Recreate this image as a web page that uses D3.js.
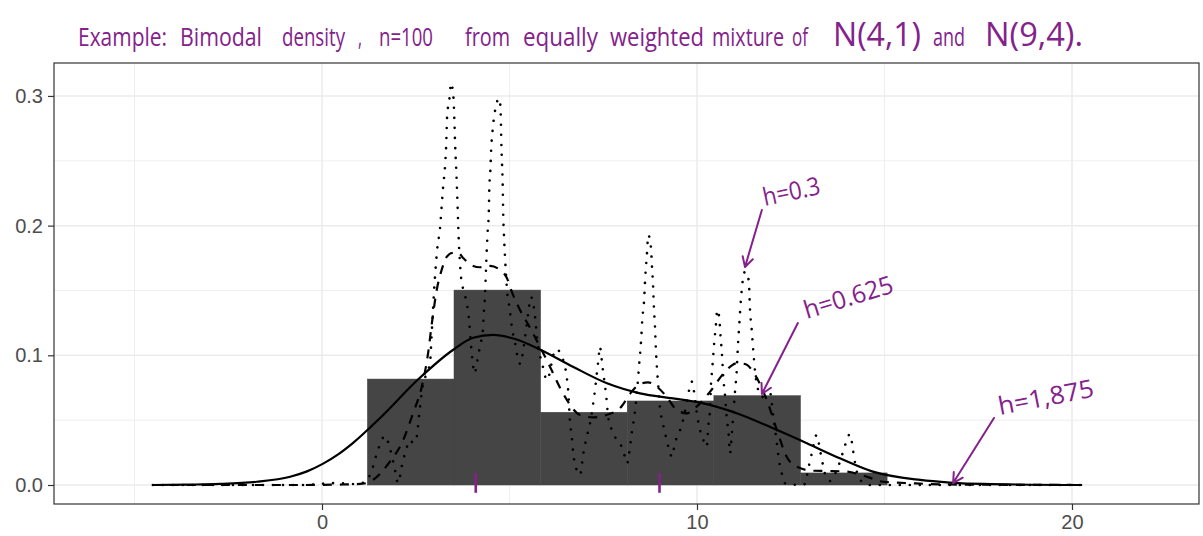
<!DOCTYPE html>
<html>
<head>
<meta charset="utf-8">
<script src="https://cdn.jsdelivr.net/npm/d3@7"></script>
<style>
  body { margin: 0; background: #fff; }
  svg { display: block; }
</style>
</head>
<body>
<div id="chart"></div>
<script>
// histogram (density scale)
var binEdges = [1.21, 3.52, 5.83, 8.14, 10.45, 12.76, 15.07];
var binDensity = [0.0817, 0.1503, 0.0561, 0.0648, 0.0689, 0.0093];

// kernel density estimates, [x, density]
var densityH03 = [
  [-4.51,0],[-0.59,0],[0.40,0.0015],[0.88,0.0008],[1.15,0.0023],[1.33,0.0116],[1.49,0.0270],[1.68,0.0378],
  [1.81,0.0285],[1.92,0.0154],[2.03,0.0015],[2.13,0.0147],[2.24,0.0270],[2.35,0.0347],[2.43,0.0324],[2.51,0.0347],
  [2.59,0.0540],[2.67,0.0733],[2.77,0.0848],[2.88,0.0941],[2.93,0.1195],[2.99,0.1504],[3.07,0.1812],[3.15,0.1990],
  [3.19,0.2146],[3.23,0.2300],[3.28,0.2455],[3.31,0.2609],[3.34,0.2866],[3.39,0.2956],[3.44,0.3098],[3.50,0.3008],
  [3.53,0.2815],[3.55,0.2622],[3.58,0.2429],[3.61,0.2198],[3.63,0.2021],[3.65,0.1866],[3.68,0.1710],[3.71,0.1596],
  [3.77,0.1504],[3.86,0.1404],[3.93,0.1249],[3.97,0.1095],[4.02,0.0941],[4.07,0.0861],[4.13,0.0939],[4.21,0.1067],
  [4.29,0.1195],[4.32,0.1350],[4.35,0.1481],[4.37,0.1635],[4.39,0.1789],[4.42,0.1967],[4.45,0.2121],[4.46,0.2275],
  [4.49,0.2429],[4.51,0.2583],[4.55,0.2738],[4.59,0.2840],[4.66,0.2944],[4.70,0.2982],[4.75,0.2944],[4.77,0.2815],
  [4.78,0.2661],[4.80,0.2483],[4.82,0.2300],[4.83,0.2121],[4.85,0.1943],[4.88,0.1761],[4.91,0.1606],[4.94,0.1481],
  [5.01,0.1350],[5.06,0.1221],[5.15,0.1095],[5.23,0.0964],[5.29,0.0933],[5.36,0.1026],[5.44,0.1195],[5.51,0.1350],
  [5.57,0.1450],[5.64,0.1388],[5.69,0.1272],[5.73,0.1141],[5.81,0.1003],[5.90,0.0902],[5.99,0.0810],[6.08,0.0871],
  [6.16,0.0995],[6.27,0.1049],[6.37,0.1003],[6.48,0.0912],[6.53,0.0825],[6.57,0.0709],[6.61,0.0501],[6.66,0.0372],
  [6.70,0.0247],[6.79,0.0116],[6.88,0.0077],[6.97,0.0244],[7.06,0.0372],[7.15,0.0478],[7.22,0.0604],[7.28,0.0733],
  [7.33,0.0864],[7.37,0.0964],[7.41,0.1067],[7.46,0.0964],[7.50,0.0864],[7.55,0.0758],[7.59,0.0656],[7.63,0.0527],
  [7.73,0.0424],[7.86,0.0347],[7.99,0.0295],[8.08,0.0218],[8.14,0.0167],[8.19,0.0244],[8.26,0.0399],[8.35,0.0578],
  [8.41,0.0758],[8.46,0.0939],[8.51,0.1118],[8.54,0.1272],[8.59,0.1427],[8.62,0.1606],[8.66,0.1761],[8.70,0.1928],
  [8.77,0.1838],[8.80,0.1683],[8.83,0.1529],[8.85,0.1375],[8.88,0.1221],[8.90,0.1067],[8.93,0.0912],[8.97,0.0758],
  [9.01,0.0604],[9.09,0.0476],[9.17,0.0372],[9.26,0.0270],[9.33,0.0218],[9.41,0.0322],[9.55,0.0424],[9.65,0.0527],
  [9.74,0.0656],[9.81,0.0758],[9.86,0.0797],[9.90,0.0758],[9.95,0.0656],[10.01,0.0527],[10.08,0.0424],[10.17,0.0347],
  [10.26,0.0295],[10.30,0.0450],[10.35,0.0604],[10.37,0.0758],[10.41,0.0912],[10.45,0.1067],[10.50,0.1221],[10.54,0.1350],
  [10.59,0.1298],[10.63,0.1144],[10.67,0.0989],[10.70,0.0835],[10.75,0.0681],[10.79,0.0527],[10.85,0.0372],[10.88,0.0244],
  [10.93,0.0399],[10.97,0.0553],[11.01,0.0707],[11.06,0.0887],[11.09,0.1067],[11.13,0.1247],[11.17,0.1427],[11.21,0.1555],
  [11.28,0.1645],[11.34,0.1633],[11.39,0.1529],[11.41,0.1375],[11.46,0.1195],[11.50,0.1041],[11.55,0.0871],[11.63,0.0733],
  [11.73,0.0679],[11.84,0.0686],[11.95,0.0709],[12.03,0.0540],[12.13,0.0322],[12.20,0.0167],[12.26,0.0090],[12.35,0.0013],
  [12.75,0],[12.88,0.0008],[12.96,0.0116],[13.07,0.0254],[13.19,0.0386],[13.28,0.0270],[13.36,0.0154],[13.44,0.0062],
  [13.55,0.0031],[13.68,0.0085],[13.81,0.0177],[13.95,0.0308],[14.08,0.0393],[14.16,0.0270],[14.25,0.0116],[14.35,0.0039],
  [14.61,0],[20.27,0]
];

var densityH0625 = [
  [-4.51,0],[-0.59,0],[0.56,0.0004],[1.09,0.0010],[1.36,0.0039],[1.81,0.0180],[2.13,0.0324],[2.43,0.0555],
  [2.66,0.0758],[2.83,0.1018],[2.93,0.1249],[3.06,0.1504],[3.19,0.1658],[3.33,0.1761],[3.47,0.1789],[3.63,0.1791],
  [3.76,0.1751],[4.03,0.1689],[4.21,0.1679],[4.48,0.1689],[4.75,0.1658],[4.93,0.1596],[5.06,0.1491],[5.28,0.1350],
  [5.55,0.1211],[5.81,0.1067],[6.08,0.0912],[6.35,0.0748],[6.53,0.0656],[6.88,0.0540],[7.23,0.0522],[7.59,0.0540],
  [7.95,0.0594],[8.26,0.0720],[8.48,0.0779],[8.69,0.0792],[8.93,0.0758],[9.19,0.0681],[9.46,0.0578],[9.73,0.0553],
  [9.99,0.0604],[10.35,0.0720],[10.75,0.0874],[11.06,0.0939],[11.28,0.0933],[11.55,0.0848],[11.86,0.0656],[12.13,0.0424],
  [12.39,0.0218],[12.66,0.0141],[13.09,0.0110],[13.55,0.0108],[13.99,0.0103],[14.53,0.0064],[14.96,0.0025],[15.76,0.0013],
  [16.75,0.0004],[20.27,0]
];

var densityH1875 = [
  [-4.51,0],[-3.60,0.0003],[-2.72,0.0008],[-1.74,0.0025],[-0.85,0.0064],[-0.40,0.0105],[0.03,0.0165],[0.45,0.0240],
  [0.83,0.0325],[1.55,0.0517],[2.56,0.0813],[3.49,0.1041],[4.03,0.1135],[4.56,0.1157],[5.15,0.1126],[5.81,0.1045],
  [6.69,0.0912],[7.60,0.0784],[8.48,0.0707],[9.36,0.0668],[10.08,0.0635],[11.15,0.0544],[12.03,0.0437],[12.93,0.0322],
  [13.81,0.0206],[14.69,0.0103],[15.95,0.0039],[16.75,0.0019],[17.63,0.0008],[20.27,0]
];

// hand-drawn marks at the two component means
var rugMarks = [4.1, 9.0];

var xTicks = [0, 10, 20];
var xMinor = [-5, 5, 15];
var yTicks = [0, 0.1, 0.2, 0.3];
var yMinor = [0.05, 0.15, 0.25];

var titleWords = ["Example:", "Bimodal", "density", ",", "n=100", "from", "equally", "weighted",
  "mixture", "of", "N(4,1)", "and", "N(9,4)."];
var bandwidthLabels = ["h=0.3", "h=0.625", "h=1,875"];

var width = 1203, height = 536;
var panel = {left: 54, right: 1199, top: 63, bottom: 504};
var purple = "#84218b";

var svg = d3.select("#chart").append("svg")
  .attr("width", width)
  .attr("height", height);

var x = d3.scaleLinear().domain([-7.147, 23.387]).range([panel.left, panel.right]);
var y = d3.scaleLinear().domain([-0.01465, 0.3254]).range([panel.bottom, panel.top]);

// grid
var grid = svg.append("g");
grid.selectAll(".xminor").data(xMinor).enter().append("line")
  .attr("x1", d => x(d)).attr("x2", d => x(d))
  .attr("y1", panel.top).attr("y2", panel.bottom)
  .attr("stroke", "#ebebeb").attr("stroke-width", 0.8);
grid.selectAll(".yminor").data(yMinor).enter().append("line")
  .attr("y1", d => y(d)).attr("y2", d => y(d))
  .attr("x1", panel.left).attr("x2", panel.right)
  .attr("stroke", "#ebebeb").attr("stroke-width", 0.8);
grid.selectAll(".xmajor").data(xTicks).enter().append("line")
  .attr("x1", d => x(d)).attr("x2", d => x(d))
  .attr("y1", panel.top).attr("y2", panel.bottom)
  .attr("stroke", "#ebebeb").attr("stroke-width", 1.5);
grid.selectAll(".ymajor").data(yTicks).enter().append("line")
  .attr("y1", d => y(d)).attr("y2", d => y(d))
  .attr("x1", panel.left).attr("x2", panel.right)
  .attr("stroke", "#ebebeb").attr("stroke-width", 1.5);

// histogram
svg.append("g").selectAll("rect")
  .data(binDensity)
  .enter().append("rect")
  .attr("x", (d, i) => x(binEdges[i]))
  .attr("width", (d, i) => x(binEdges[i + 1]) - x(binEdges[i]))
  .attr("y", d => y(d))
  .attr("height", d => y(0) - y(d))
  .attr("fill", "#454545")
  .attr("stroke", "#454545")
  .attr("stroke-width", 0.5);

// density curves
var line = d3.line()
  .x(d => x(d[0]))
  .y(d => y(d[1]))
  .curve(d3.curveMonotoneX);

svg.append("path").datum(densityH1875)
  .attr("d", line).attr("fill", "none")
  .attr("stroke", "#000").attr("stroke-width", 2.2);

svg.append("path").datum(densityH0625)
  .attr("d", line).attr("fill", "none")
  .attr("stroke", "#000").attr("stroke-width", 2.2)
  .attr("stroke-dasharray", "9,8");

svg.append("path").datum(densityH03)
  .attr("d", line).attr("fill", "none")
  .attr("stroke", "#000").attr("stroke-width", 2.6)
  .attr("stroke-linecap", "round")
  .attr("stroke-dasharray", "0.01,10");

// panel border
svg.append("rect")
  .attr("x", panel.left).attr("y", panel.top)
  .attr("width", panel.right - panel.left)
  .attr("height", panel.bottom - panel.top)
  .attr("fill", "none").attr("stroke", "#333").attr("stroke-width", 1.2);

// axes
var xAxis = svg.append("g")
  .attr("transform", "translate(0," + panel.bottom + ")")
  .call(d3.axisBottom(x).tickValues(xTicks).tickSize(6).tickPadding(5));
var yAxis = svg.append("g")
  .attr("transform", "translate(" + panel.left + ",0)")
  .call(d3.axisLeft(y).tickValues(yTicks).tickFormat(d3.format(".1f")).tickSize(6).tickPadding(5));

[xAxis, yAxis].forEach(function(ax) {
  ax.select(".domain").remove();
  ax.selectAll(".tick line").attr("stroke", "#333").attr("stroke-width", 1.2);
  ax.selectAll(".tick text")
    .attr("fill", "#4d4d4d")
    .style("font-family", "'Liberation Sans', Arial, sans-serif")
    .style("font-size", "20px");
});

// purple rug marks
svg.append("g").selectAll("line")
  .data(rugMarks)
  .enter().append("line")
  .attr("x1", d => x(d)).attr("x2", d => x(d))
  .attr("y1", y(0.0093)).attr("y2", y(-0.006))
  .attr("stroke", purple).attr("stroke-width", 2.6);

// handwritten-style title
var titleSpans = [[78,167],[180,262],[282,345],[358,362],[379,433],[465,510],[523,598],
  [610,704],[712,784],[792,808],[833,921],[933,965],[985,1083]];
svg.append("g").selectAll("text")
  .data(titleWords)
  .enter().append("text")
  .attr("x", (d, i) => titleSpans[i][0])
  .attr("y", 46)
  .attr("textLength", (d, i) => titleSpans[i][1] - titleSpans[i][0])
  .attr("lengthAdjust", "spacingAndGlyphs")
  .attr("fill", purple)
  .style("font-family", "'Open Sans', sans-serif")
  .style("font-size", d => d.charAt(0) === "N" ? "32px" : "26px")
  .text(d => d);

// bandwidth annotations: arrow tail, arrow tip, text anchor (data coords)
var notes = [
  {tail: [11.73, 0.2121], tip: [11.28, 0.1681], at: [11.81, 0.2152], rot: -12, len: 58},
  {tail: [12.69, 0.1249], tip: [11.73, 0.0702], at: [12.93, 0.1280], rot: -17, len: 92},
  {tail: [17.92, 0.0517], tip: [16.83, 0.0015], at: [18.08, 0.0540], rot: -11, len: 97}
];

var ann = svg.append("g");
notes.forEach(function(n, i) {
  var x0 = x(n.tail[0]), y0 = y(n.tail[1]);
  var x1 = x(n.tip[0]), y1 = y(n.tip[1]);
  var ang = Math.atan2(y0 - y1, x0 - x1);
  var headLen = 11, spread = 0.5;
  ann.append("path")
    .attr("d", "M" + x0 + "," + y0 + "L" + x1 + "," + y1 +
      "M" + (x1 + headLen * Math.cos(ang + spread)) + "," + (y1 + headLen * Math.sin(ang + spread)) +
      "L" + x1 + "," + y1 +
      "L" + (x1 + headLen * Math.cos(ang - spread)) + "," + (y1 + headLen * Math.sin(ang - spread)))
    .attr("fill", "none")
    .attr("stroke", purple)
    .attr("stroke-width", 2)
    .attr("stroke-linecap", "round")
    .attr("stroke-linejoin", "round");

  var tx = x(n.at[0]), ty = y(n.at[1]);
  ann.append("text")
    .attr("transform", "translate(" + tx + "," + ty + ") rotate(" + n.rot + ")")
    .attr("textLength", n.len)
    .attr("lengthAdjust", "spacingAndGlyphs")
    .attr("fill", purple)
    .style("font-family", "'Open Sans', sans-serif")
    .style("font-size", "25px")
    .text(bandwidthLabels[i]);
});
</script>
</body>
</html>
